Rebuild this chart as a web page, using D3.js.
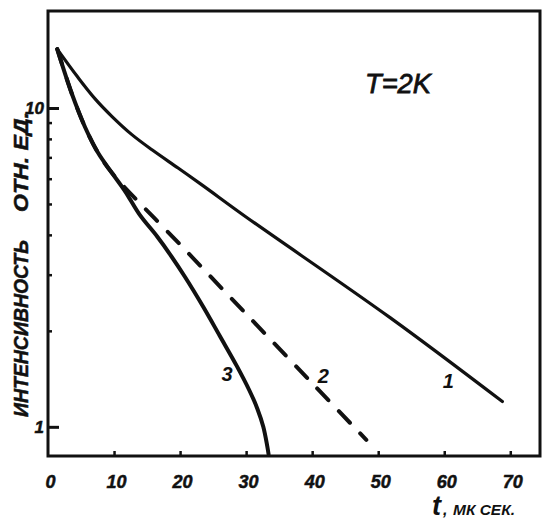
<!DOCTYPE html>
<html>
<head>
  <title>Затухание интенсивности, T=2K</title>
  <script src="https://d3js.org/d3.v7.min.js"></script>
  <style>
  body {
    margin: 0;
    background: #fff;
  }
  text {
    font-family: "Liberation Sans", Arial, sans-serif;
    font-style: italic;
    font-weight: bold;
    fill: #111;
  }
  .axis path, .axis line {
    stroke: #111;
  }
  .curve {
    fill: none;
    stroke: #111;
    stroke-linecap: round;
    stroke-linejoin: round;
  }
</style>
</head>
<body>
  <div id="chart"></div>
  <script>
    // data (t in mks, intensity in rel. units)
    var t1 = [1.4, 4.5, 7.1, 9.7, 12.7, 15.8, 19.7, 23.3, 30.2, 51.8, 68.8];
    var v1 = [15.3, 12.5, 10.7, 9.4, 8.25, 7.38, 6.48, 5.74, 4.52, 2.2, 1.2];

    var t2 = [1.4, 3.6, 5.6, 7.6, 9.7, 20, 30, 40, 48.2];
    var v2 = [15.3, 11.1, 8.72, 7.22, 6.25, 3.73, 2.26, 1.37, 0.91];

    var t3 = [1.4, 3.6, 5.6, 7.6, 9.7, 11.7, 13.9, 16.5, 18.5, 20.8, 23.5, 26.0, 28.6, 30.5, 31.7, 32.6, 33.2, 33.4];
    var v3 = [15.3, 11.1, 8.72, 7.22, 6.25, 5.47, 4.62, 3.96, 3.47, 2.94, 2.38, 1.93, 1.55, 1.30, 1.14, 1.0, 0.87, 0.82];

    var xTicks = [0, 10, 20, 30, 40, 50, 60, 70];
    var yMajor = [1, 10];
    var yMinor = [2, 3, 4, 5, 6, 7, 8, 9];

    var curveLabels = ["1", "2", "3"];
    var labelAt = [[60.6, 1.32], [41.7, 1.37], [27.1, 1.39]]; // [t, v] of each digit's baseline

    var width = 542, height = 520;
    // plot box (note: "top" is reserved on window, so use m-prefixed names)
    var mLeft = 48, mRight = 540, mTop = 11, mBottom = 456;

    var svg = d3.select("#chart").append("svg")
      .attr("width", width)
      .attr("height", height);

    var x = d3.scaleLinear().domain([0, 74.5]).range([mLeft, mRight]);
    var y = d3.scaleLog().domain([0.81, 20]).range([mBottom, mTop + 1]);

    // frame
    svg.append("rect")
      .attr("x", mLeft).attr("y", mTop)
      .attr("width", mRight - mLeft).attr("height", mBottom - mTop)
      .attr("fill", "none").attr("stroke", "#111").attr("stroke-width", 3);

    // x axis, ticks point inward
    var xAxis = svg.append("g").attr("class", "axis")
      .attr("transform", "translate(0," + mBottom + ")")
      .call(d3.axisBottom(x).tickValues(xTicks).tickSizeInner(-5).tickSizeOuter(0).tickPadding(19));
    xAxis.select(".domain").remove();
    xAxis.selectAll("line").attr("stroke-width", 2.5);
    xAxis.selectAll("text").style("font-size", "18px").attr("dx", "2px")
      .style("stroke", "#111").style("stroke-width", 0.5);
    xAxis.selectAll(".tick").filter(function(d) { return d === 0; }).select("line").remove();

    // y axis: major ticks with labels, minor ticks plain
    var yAxis = svg.append("g").attr("class", "axis")
      .attr("transform", "translate(" + mLeft + ",0)")
      .call(d3.axisLeft(y).tickValues(yMajor).tickFormat(d3.format("d"))
        .tickSizeInner(-11).tickSizeOuter(0).tickPadding(4));
    yAxis.select(".domain").remove();
    yAxis.selectAll("line").attr("stroke-width", 3);
    yAxis.selectAll("text").style("font-size", "17px")
      .style("stroke", "#111").style("stroke-width", 0.5);

    var yMinorAxis = svg.append("g").attr("class", "axis")
      .attr("transform", "translate(" + mLeft + ",0)")
      .call(d3.axisLeft(y).tickValues(yMinor).tickFormat("").tickSizeInner(-4).tickSizeOuter(0));
    yMinorAxis.select(".domain").remove();
    yMinorAxis.selectAll("line").attr("stroke-width", 2.5);

    // curves
    var line = d3.line()
      .x(function(d) { return x(d[0]); })
      .y(function(d) { return y(d[1]); })
      .curve(d3.curveCatmullRom.alpha(0.5));

    function pairs(ts, vs) {
      return ts.map(function(t, i) { return [t, vs[i]]; });
    }

    svg.append("path").attr("class", "curve")
      .attr("d", line(pairs(t1, v1)))
      .attr("stroke-width", 3.2);

    svg.append("path").attr("class", "curve")
      .attr("d", line(pairs(t2, v2)))
      .attr("stroke-width", 4)
      .attr("stroke-dasharray", "16,15");

    svg.append("path").attr("class", "curve")
      .attr("d", line(pairs(t3, v3)))
      .attr("stroke-width", 4);

    // curve numbers
    svg.selectAll(".num")
      .data(curveLabels)
      .enter().append("text")
      .attr("class", "num")
      .attr("x", function(d, i) { return x(labelAt[i][0]); })
      .attr("y", function(d, i) { return y(labelAt[i][1]); })
      .attr("text-anchor", "middle")
      .style("font-size", "20px")
      .text(function(d) { return d; });

    // temperature
    svg.append("text")
      .attr("x", 365).attr("y", 93)
      .attr("textLength", 66)
      .attr("lengthAdjust", "spacingAndGlyphs")
      .style("font-size", "28px")
      .style("font-weight", "normal")
      .style("stroke", "#111").style("stroke-width", 0.8)
      .text("T=2K");

    // y label
    var yl = svg.append("g").attr("transform", "translate(28,0) rotate(-90)")
      .style("stroke", "#111").style("stroke-width", 0.5);
    yl.append("text")
      .attr("x", -417).attr("y", 0)
      .attr("textLength", 177)
      .attr("lengthAdjust", "spacingAndGlyphs")
      .style("font-size", "20px")
      .text("ИНТЕНСИВНОСТЬ");
    yl.append("text")
      .attr("x", -212).attr("y", 0)
      .attr("textLength", 100)
      .attr("lengthAdjust", "spacingAndGlyphs")
      .style("font-size", "20px")
      .text("ОТН. ЕД.");

    // x label
    svg.append("text")
      .attr("x", 432).attr("y", 515)
      .style("font-size", "27px")
      .text("t");
    svg.append("text")
      .attr("x", 443).attr("y", 515)
      .style("font-size", "16px")
      .text(",");
    svg.append("text")
      .attr("x", 453).attr("y", 515)
      .attr("textLength", 62)
      .attr("lengthAdjust", "spacingAndGlyphs")
      .style("font-size", "14px")
      .text("МК СЕК.");
  </script>
</body>
</html>
